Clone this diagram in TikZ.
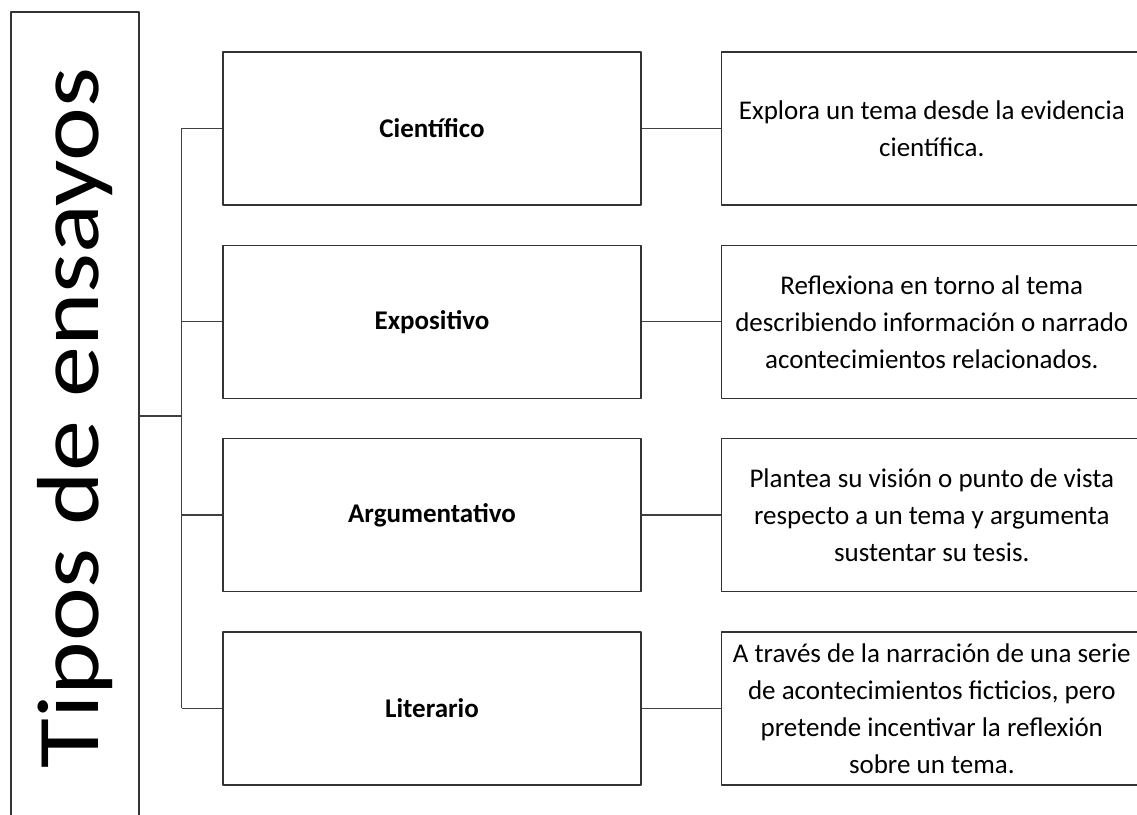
\documentclass[tikz,border=0pt]{standalone}
\usepackage{fontspec}
\setmainfont{Carlito}
\usetikzlibrary{positioning}
\tikzset{
  tipo/.style={draw=black!80, line width=1.3pt, minimum width=418pt, minimum height=153pt, font=\fontsize{27}{37}\selectfont\bfseries},
  desc/.style={draw=black!80, line width=1.3pt, minimum width=421pt, minimum height=153pt, align=center, font=\fontsize{27}{37}\selectfont},
  con/.style={draw=black!75, line width=1.3pt}
}
\begin{document}
\begin{tikzpicture}[x=1pt, y=1pt, line join=round]
                \useasboundingbox (0,0) rectangle (1137,814);
                % titulo
                \node[rotate=90, draw=black!80, line width=1.3pt, minimum width=812pt, minimum height=128pt,
                      font=\fontsize{88}{96}\selectfont] (tipos) at (75,396) {\scalebox{1.16}[1]{Tipos de ensayos}};
                % tipos
                \node[tipo] (cien) at (432,685.5) {Científico};
                \node[tipo, below=39pt of cien] (expo) {Expositivo};
                \node[tipo, below=39pt of expo] (argu) {Argumentativo};
                \node[tipo, below=39pt of argu] (lite) {Literario};
                % descripciones
                \node[desc, right=79pt of cien] (dcien) {Explora un tema desde la evidencia\\científica.};
                \node[desc, right=79pt of expo] (dexpo) {Reflexiona en torno al tema\\describiendo información o narrado\\acontecimientos relacionados.};
                \node[desc, right=79pt of argu] (dargu) {Plantea su visión o punto de vista\\respecto a un tema y argumenta\\sustentar su tesis.};
                \node[desc, right=79pt of lite] (dlite) {A través de la narración de una serie\\de acontecimientos ficticios, pero\\pretende incentivar la reflexión\\sobre un tema.};
                % conectores
                \draw[con] (tipos.south |- 0,398) -- ++(42,0) coordinate (tr);
                \draw[con] (tr |- cien) -- (tr |- lite);
                \draw[con]
                (tr |- cien) -- (cien.west)
                (tr |- expo) -- (expo.west)
                (tr |- argu) -- (argu.west)
                (tr |- lite) -- (lite.west)
                ;
                \draw[con]
                (cien) -- (dcien)
                (expo) -- (dexpo)
                (argu) -- (dargu)
                (lite) -- (dlite)
                ;
\end{tikzpicture}
\end{document}
